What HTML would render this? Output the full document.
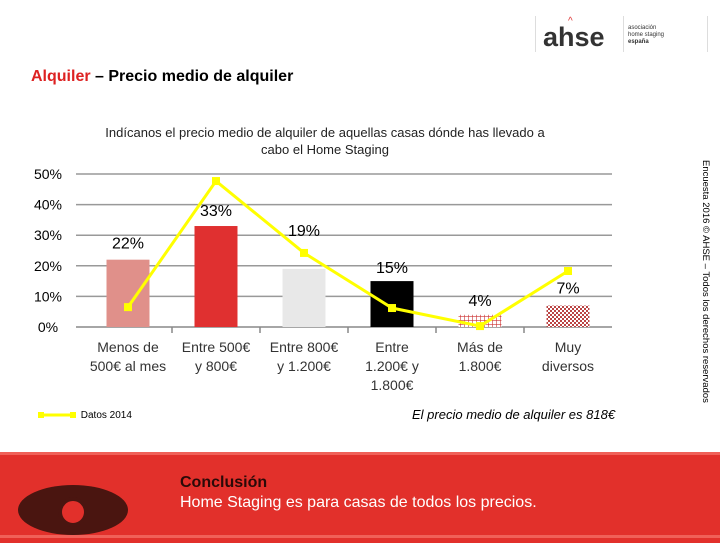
<!DOCTYPE html>
<html><head><meta charset="utf-8"><style>
body{margin:0;width:720px;height:540px;overflow:hidden;background:#fff;font-family:"Liberation Sans",sans-serif;position:relative}
.abs{position:absolute}
</style></head><body>
<div class="abs" style="left:535px;top:12px;width:175px;height:42px">
 <div class="abs" style="left:0;top:4px;width:1px;height:36px;background:#ddd"></div>
 <div class="abs" style="left:8px;top:10px;font:bold 27px 'Liberation Sans',sans-serif;color:#333">ahse</div>
 <div class="abs" style="left:33px;top:4px;color:#d33;font-size:10px">^</div>
 <div class="abs" style="left:88px;top:4px;width:1px;height:36px;background:#ddd"></div>
 <div class="abs" style="left:93px;top:13px;font-size:6px;line-height:7px;color:#333">asociación<br>home staging<br><b>españa</b></div>
 <div class="abs" style="left:172px;top:4px;width:1px;height:36px;background:#ddd"></div>
</div>
<div class="abs" style="left:31px;top:68px;font-size:16px;font-weight:bold"><span style="color:#d22">Alquiler</span> – Precio medio de alquiler</div>
<div class="abs" style="left:85px;top:124px;width:480px;text-align:center;font-size:13px;line-height:17px;color:#222">Indícanos el precio medio de alquiler de aquellas casas dónde has llevado a<br>cabo el Home Staging</div>
<div class="abs" style="left:697px;top:160px;width:14px;height:260px"><div style="transform:rotate(90deg);transform-origin:0 0;position:absolute;left:14px;top:0;white-space:nowrap;font-size:9.5px">Encuesta 2016 © AHSE – Todos los derechos reservados</div></div>
<svg class="abs" style="left:0;top:0" width="720" height="540" id="chart">
<defs>
<pattern id="grid" width="4" height="4" patternUnits="userSpaceOnUse"><rect width="4" height="4" fill="#fff"/><path d="M0 0H4M0 0V4" stroke="#c33" stroke-width="1.2"/></pattern>
<pattern id="check" width="4" height="4" patternUnits="userSpaceOnUse"><rect width="4" height="4" fill="#fff"/><rect width="2" height="2" fill="#b44"/><rect x="2" y="2" width="2" height="2" fill="#b44"/></pattern>
</defs>
</svg>
<div class="abs" style="left:38px;top:410px;font-size:10px">
 <svg width="40" height="10" style="vertical-align:middle"><line x1="3" y1="5" x2="36" y2="5" stroke="#ffff00" stroke-width="3"/><rect x="0" y="2" width="6" height="6" fill="#ffff00"/><rect x="32" y="2" width="6" height="6" fill="#ffff00"/></svg> Datos 2014</div>
<div class="abs" style="left:412px;top:407px;font-size:13px;font-style:italic">El precio medio de alquiler es 818€</div>
<div class="abs" style="left:0;top:452px;width:720px;height:88px;background:#e2302b;border-top:3px solid #f06058">
 <div class="abs" style="left:0;top:80px;width:720px;height:3px;background:#f06058"></div>
 <div class="abs" style="left:18px;top:30px;width:110px;height:50px;border-radius:50%;background:#4a1510"><div class="abs" style="left:40px;top:12px;width:30px;height:30px;border-radius:50%;background:#e2302b;border:4px solid #4a1510;box-sizing:border-box"></div></div>
 <div class="abs" style="left:180px;top:18px;font-size:16px;line-height:20px;color:#fff"><b style="color:#2a0a08">Conclusión</b><br>Home Staging es para casas de todos los precios.</div>
</div>
<script>
const categories=[["Menos de","500€ al mes"],["Entre 500€","y 800€"],["Entre 800€","y 1.200€"],["Entre","1.200€ y","1.800€"],["Más de","1.800€"],["Muy","diversos"]];
const barValues=[22,33,19,15,4,7];
const lineValues=[6.5,47.7,24.2,6.2,0.3,18.3];
const yTicks=[0,10,20,30,40,50];
const fills=["#e0908a","#e03030","#e8e8e8","#000","url(#grid)","url(#check)"];
const svg=document.getElementById('chart');const NS='http://www.w3.org/2000/svg';
const x0=84,cw=88,y0=327,pp=3.06;
const X=i=>x0+cw*(i+0.5),Y=v=>y0-v*pp;
function mk(t,a,p){const e=document.createElementNS(NS,t);for(const k in a)e.setAttribute(k,a[k]);(p||svg).appendChild(e);return e;}
yTicks.forEach(t=>{const g=mk('line',{x1:x0-8,x2:612,y1:Y(t),y2:Y(t),stroke:t?'#999':'#888','stroke-width':1.5});


const l=mk('text',{x:48,y:Y(t)+5,'text-anchor':'middle','font-size':14,'font-family':'Liberation Sans'});l.textContent=t+'%';

});
categories.forEach((c,i)=>{if(i>0){mk('line',{x1:x0+cw*i,x2:x0+cw*i,y1:y0,y2:y0+6,stroke:'#888','stroke-width':1.5});}
c.forEach((s,j)=>{const t=mk('text',{x:X(i),y:352+j*19,'text-anchor':'middle','font-size':14,fill:'#333','font-family':'Liberation Sans'});t.textContent=s;

});});
barValues.forEach((v,i)=>{const r=mk('rect',{x:X(i)-21.5,y:Y(v),width:43,height:v*pp,fill:fills[i]});

});
const pl=mk('polyline',{points:lineValues.map((v,i)=>X(i)+','+Y(v)).join(' '),fill:'none',stroke:'#ffff00','stroke-width':3});


lineValues.forEach((v,i)=>{const p=mk('rect',{x:X(i)-4,y:Y(v)-4,width:8,height:8,fill:'#ffff00'});

});
const lblOff=[-17,-16,-39,-14,-15,-18];
barValues.forEach((v,i)=>{const t=mk('text',{x:X(i),y:Y(v)+lblOff[i]+6,'text-anchor':'middle','font-size':16,'font-family':'Liberation Sans'});t.textContent=v+'%';

});
</script>
</body></html>
